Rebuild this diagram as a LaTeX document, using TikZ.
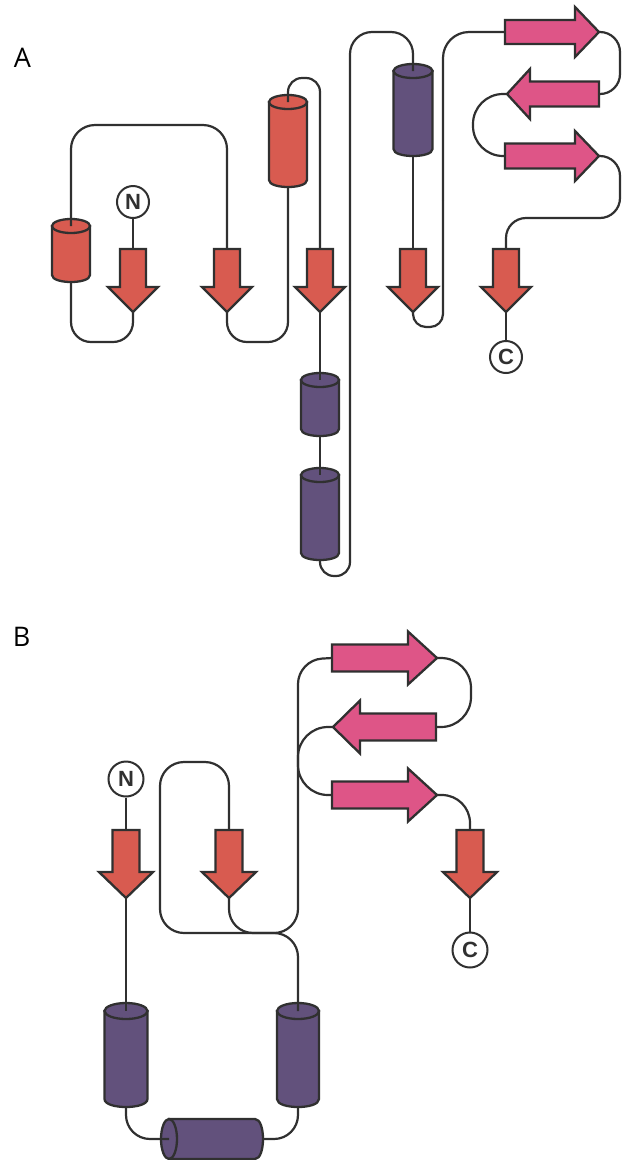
\documentclass[tikz,border=0pt]{standalone}
\usepackage{fontspec}
\setmainfont{Open Sans}
\newfontfamily\termfont{Liberation Sans}
\definecolor{strandred}{RGB}{216,91,80}
\definecolor{helixpurple}{RGB}{98,81,124}
\definecolor{sheetpink}{RGB}{222,85,135}
\definecolor{outl}{RGB}{48,48,48}
\begin{document}
\begin{tikzpicture}[x=1pt,y=-1pt,
  shp/.style={draw=outl,line width=2.3pt,line join=miter},
  conn/.style={draw=outl,line width=2.2pt},
  term/.style={circle,draw=outl,fill=white,line width=2pt,minimum size=32pt,inner sep=0pt,
    font=\termfont\bfseries\fontsize{22}{22}\selectfont,text=outl},
  panel/.style={inner sep=0pt,font=\fontsize{27}{27}\selectfont,text=black},
  pics/strand/.style n args={5}{code={
    \path[shp,fill=#5] (-#3,0) -- (#3,0) -- (#3,#1) -- (#4,#1) -- (0,#1+#2) -- (-#4,#1) -- (-#3,#1) -- cycle;
    \coordinate (-top) at (0,0);
    \coordinate (-tip) at (0,#1+#2);
  }},
  pics/sheet/.style n args={6}{code={
    \path[shp,fill=#5] (0,-#3) -- (#6*#1,-#3) -- (#6*#1,-#4) -- ({#6*(#1+#2)},0) -- (#6*#1,#4) -- (#6*#1,#3) -- (0,#3) -- cycle;
    \coordinate (-tail) at (0,0);
    \coordinate (-tip) at ({#6*(#1+#2)},0);
  }},
  pics/helix/.style n args={4}{code={
    \path[shp,fill=#4] (-#1,#3) -- (-#1,#2-#3) .. controls (-#1,#2+#3/3) and (#1,#2+#3/3) .. (#1,#2-#3) -- (#1,#3) -- cycle;
    \path[shp,fill=#4] (0,#3) ellipse [x radius=#1pt, y radius=#3pt];
    \coordinate (-top) at (0,#3);
    \coordinate (-bot) at (0,#2);
  }},
  pics/helixh/.style n args={4}{code={
    \path[shp,fill=#4] (#3,-#2) -- (#1-#3,-#2) .. controls (#1+#3/3,-#2) and (#1+#3/3,#2) .. (#1-#3,#2) -- (#3,#2) -- cycle;
    \path[shp,fill=#4] (#3,0) ellipse [x radius=#3pt, y radius=#2pt];
    \coordinate (-left) at (#3,0);
    \coordinate (-right) at (#1,0);
  }}
]
\fill[white] (0,0) rectangle (622,1160);
\useasboundingbox (0,0) rectangle (622,1160);

% ---------- Panel A ----------
\node[panel] (lA) at (22.5,58) {A};

\pic (s1) at (133,249) {strand={38}{25}{13}{25}{strandred}};
\pic (s2) at (227,249) {strand={38}{25}{13}{25}{strandred}};
\pic (s3) at (320,249) {strand={38}{25}{13}{25}{strandred}};
\pic (s4) at (413,249) {strand={38}{25}{13}{25}{strandred}};
\pic (s5) at (506,249) {strand={38}{25}{13}{25}{strandred}};

\pic (a1) at (505,32) {sheet={70}{24}{12}{25}{sheetpink}{1}};
\pic (a2) at (599,94) {sheet={69}{23}{12.5}{25}{sheetpink}{-1}};
\pic (a3) at (505,156) {sheet={70}{24}{12.5}{25}{sheetpink}{1}};

\pic (ha1) at (71,219) {helix={19}{63}{7}{strandred}};
\pic (ha2) at (288,95) {helix={19}{92}{7}{strandred}};
\pic (ha3) at (413,64) {helix={19.5}{92}{7}{helixpurple}};
\pic (ha4) at (320,373) {helix={19}{63}{7}{helixpurple}};
\pic (ha5) at (320,468) {helix={19}{92}{7}{helixpurple}};

\node[term] (nA) at (133,202) {N};
\node[term] (cA) at (506,357) {C};

\coordinate (jA1) at (350,300);
\coordinate (jA2) at (443,200);

\draw[conn] (nA) -- (s1-top);
\draw[conn,rounded corners=20pt] (s1-tip) -- (s1-tip |- 0,342) -- (ha1-bot |- 0,342) -- (ha1-bot);
\draw[conn,rounded corners=24pt] (ha1-top) -- (ha1-top |- 0,125) -- (s2-top |- 0,125) -- (s2-top);
\draw[conn,rounded corners=20pt] (s2-tip) -- (s2-tip |- 0,342) -- (ha2-bot |- 0,342) -- (ha2-bot);
\draw[conn,rounded corners=14pt] (ha2-top) -- (ha2-top |- 0,78) -- (s3-top |- 0,78) -- (s3-top);
\draw[conn] (s3-tip) -- (ha4-top);
\draw[conn] (ha4-bot) -- (ha5-top);
\draw[conn,rounded corners=14pt] (ha5-bot) -- (ha5-bot |- 0,576) -- (jA1 |- 0,576) -- (jA1);
\draw[conn,rounded corners=22pt] (jA1) -- (jA1 |- 0,32) -- (ha3-top |- 0,32) -- (ha3-top);
\draw[conn] (ha3-bot) -- (s4-top);
\draw[conn,rounded corners=13pt] (s4-tip) -- (s4-tip |- 0,327) -- (jA2 |- 0,327) -- (jA2);
\draw[conn,rounded corners=26pt] (jA2) -- (jA2 |- a1-tail) -- (a1-tail);
\draw[conn,rounded corners=20pt] (a1-tip) -- (620,32) -- (620,94) -- (a2-tail);
\draw[conn,rounded corners=30pt] (a2-tip) -- (473,94) -- (473,156) -- (a3-tail);
\draw[conn,rounded corners=20pt] (a3-tip) -- (620,156) -- (620,218) -- (s5-top |- 0,218) -- (s5-top);
\draw[conn] (s5-tip) -- (cA);

% ---------- Panel B ----------
\node[panel] (lB) at (21.5,637) {B};

\pic (t1) at (126,830) {strand={42}{26}{13.5}{27}{strandred}};
\pic (t2) at (229,830) {strand={42}{26}{13.5}{27}{strandred}};
\pic (t3) at (470,830) {strand={42}{26}{13.5}{27}{strandred}};

\pic (b1) at (332,658) {sheet={76}{29}{13.5}{26.5}{sheetpink}{1}};
\pic (b2) at (436,727) {sheet={76}{27}{13.5}{26.5}{sheetpink}{-1}};
\pic (b3) at (332,795) {sheet={76}{29}{13.5}{26.5}{sheetpink}{1}};

\pic (hb1) at (126,1003) {helix={21.5}{104}{8}{helixpurple}};
\pic (hb2) at (298,1003) {helix={21}{104}{8}{helixpurple}};
\pic (hb3) at (161,1139) {helixh={102}{20}{8}{helixpurple}};

\node[term,minimum size=35pt] (nB) at (126,779) {N};
\node[term,minimum size=35pt] (cB) at (470,950) {C};

\draw[conn] (nB) -- (t1-top);
\draw[conn] (t1-tip) -- (hb1-top);
\draw[conn,rounded corners=24pt] (hb1-bot) -- (hb1-bot |- hb3-left) -- (hb3-left);
\draw[conn,rounded corners=24pt] (hb3-right) -- (hb2-bot |- hb3-right) -- (hb2-bot);
\draw[conn,rounded corners=24pt] (hb2-top) -- (hb2-top |- 0,933) -- (160,933) -- (160,762) -- (t2-top |- 0,762) -- (t2-top);
\draw[conn,rounded corners=24pt] (t2-tip) -- (t2-tip |- 0,933) -- (298,933) -- (298,660) -- (b1-tail);
\draw[conn,rounded corners=30pt] (b1-tip) -- (471,658) -- (471,727) -- (b2-tail);
\draw[conn,rounded corners=30pt] (b2-tip) -- (298,727) -- (298,795) -- (b3-tail);
\draw[conn,rounded corners=28pt] (b3-tip) -- (t3-top |- b3-tip) -- (t3-top);
\draw[conn] (t3-tip) -- (cB);
\end{tikzpicture}
\end{document}
